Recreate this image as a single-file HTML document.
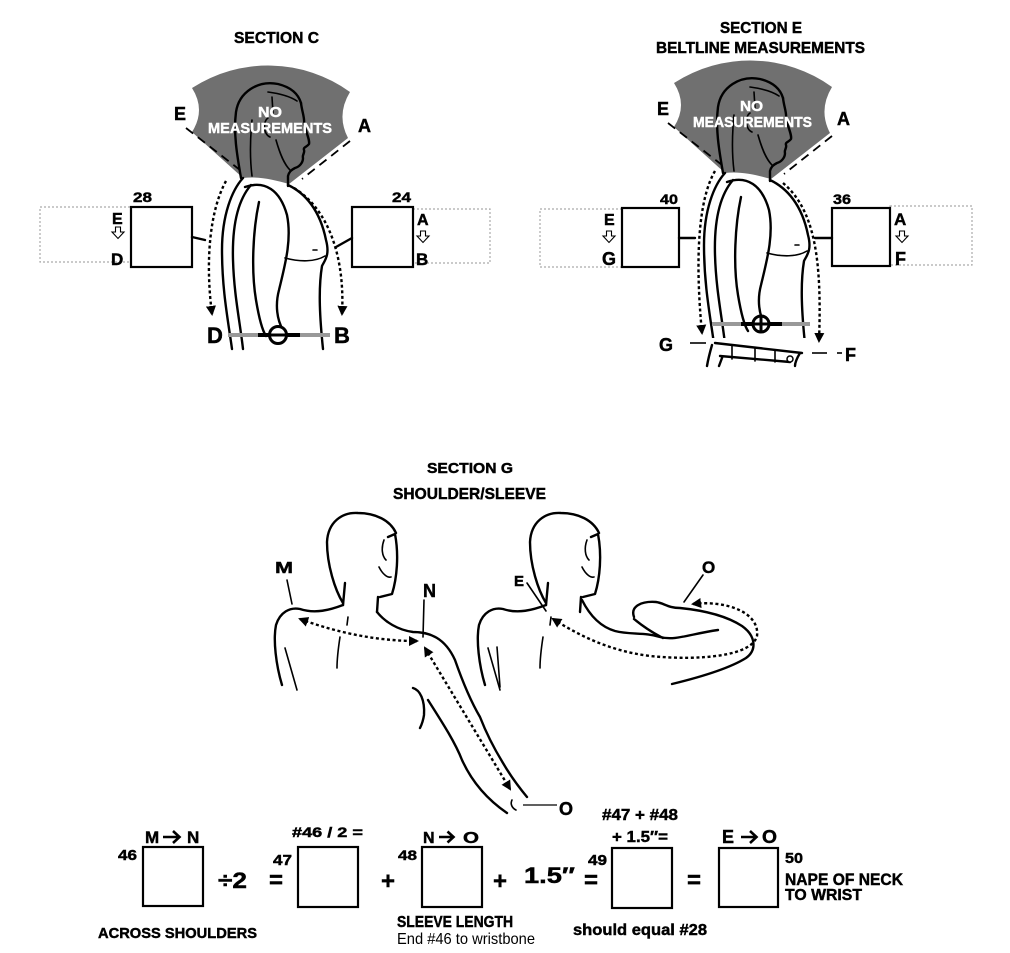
<!DOCTYPE html>
<html><head><meta charset="utf-8"><style>
html,body{margin:0;padding:0;background:#fff;}
svg{display:block;}
.t{font-family:"Liberation Sans",Arial,sans-serif;font-weight:bold;fill:#000;stroke:#000;stroke-width:0.45;}
.r{font-family:"Liberation Sans",Arial,sans-serif;font-weight:normal;fill:#000;}
.w{fill:#fff;stroke:#fff;}
.ln{fill:none;stroke:#000;stroke-width:2.4;stroke-linecap:round;stroke-linejoin:round;}
.th{fill:none;stroke:#000;stroke-width:1.6;stroke-linecap:round;}
.dot{fill:none;stroke:#000;stroke-width:2.4;stroke-dasharray:3 2.6;}
.dash{fill:none;stroke:#000;stroke-width:1.8;stroke-dasharray:9 6;}
.box{fill:#fff;stroke:#000;stroke-width:2.2;}
.gbox{fill:none;stroke:#aaa;stroke-width:1.2;stroke-dasharray:2 2;}
.ar{fill:#fff;stroke:#000;stroke-width:1.1;}
.arw{fill:none;stroke:#000;stroke-width:2.6;stroke-linecap:butt;stroke-linejoin:miter;}
</style></head><body>
<svg width="1010" height="953" viewBox="0 0 1010 953" xmlns="http://www.w3.org/2000/svg">
<defs>
<marker id="ah" viewBox="0 0 10 10" refX="8" refY="5" markerWidth="4.2" markerHeight="4.2" orient="auto-start-reverse"><path d="M0,0 L10,5 L0,10 z" fill="#000"/></marker>
<g id="fanfig">
  <path d="M192,88 A140,140 0 0 1 350,92 Q336,115 348,138 L289,184 C275,180 258,176 243,178 L192,132 Q206,110 192,88 Z" fill="#707070"/>
  <line x1="186" y1="128" x2="240" y2="170" class="dash"/>
  <line x1="350" y1="141" x2="302" y2="179" class="dash"/>
  <path class="ln" d="M241,178 C238,160 233,135 236,112 C239,92 258,80 278,84 C290,87 298,93 301,103"/>
  <path class="ln" d="M301,103 C302,112 305,118 304,124 C306,132 310,140 309,144 C307,147 303,147 304,150 C305,153 302,155 303,158 C303,163 299,167 295,168 C291,170 289,172 288,176 L288,186"/>
  <path class="th" d="M268,92 C283,94 291,97 297,101 M272,97 L273,113 M268,118 C263,121 263,134 270,137 M276,140 C280,154 284,164 290,170 M252,120 C250,140 250,160 252,176"/>
  <path class="ln" d="M243,178 C232,190 222,215 222,250 C222,290 228,320 232,349"/>
  <path class="ln" d="M251,185 C238,200 232,225 233,260 C234,295 240,322 243,349"/>
  <path class="ln" d="M245,187 C265,180 280,190 287,215 C292,240 285,265 279,290 C275,305 277,320 283,330"/>
  <path class="ln" d="M259,202 C253,230 251,270 256,300 C259,318 262,330 266,336"/>
  <path class="ln" d="M288,185 C305,193 320,210 326,240 C330,255 325,260 322,266 C318,290 320,320 323,349"/>
  <path class="th" d="M285,258 C300,262 315,262 325,256 M313,250 L317,250"/>
</g>
</defs>

<!-- SECTION C -->
<text class="t" x="234" y="43" font-size="16" textLength="85" lengthAdjust="spacingAndGlyphs">SECTION C</text>
<rect class="gbox" x="40" y="207" width="91" height="55"/>
<rect class="gbox" x="413" y="209" width="77" height="54"/>
<use href="#fanfig"/>
<text class="t w" x="258" y="117" font-size="15" textLength="24" lengthAdjust="spacingAndGlyphs">NO</text>
<text class="t w" x="208" y="133" font-size="15" textLength="124" lengthAdjust="spacingAndGlyphs">MEASUREMENTS</text>
<text class="t" x="174" y="120" font-size="18">E</text>
<text class="t" x="358" y="132" font-size="18">A</text>
<rect class="box" x="131" y="207" width="61" height="60"/>
<rect class="box" x="352" y="207" width="61" height="60"/>
<text class="t" x="133" y="202" font-size="14" textLength="19" lengthAdjust="spacingAndGlyphs">28</text>
<text class="t" x="392" y="202" font-size="14" textLength="19" lengthAdjust="spacingAndGlyphs">24</text>
<text class="t" x="112" y="224" font-size="16">E</text>
<path class="ar" d="M115.5,227 h5 v5 h3.5 l-6,6.5 l-6,-6.5 h3.5 z"/>
<text class="t" x="111" y="265" font-size="17">D</text>
<text class="t" x="417" y="225" font-size="16">A</text>
<path class="ar" d="M420.5,231 h5 v5 h3.5 l-6,6.5 l-6,-6.5 h3.5 z"/>
<text class="t" x="416" y="265" font-size="17">B</text>
<line x1="192" y1="237" x2="205" y2="240" class="ln"/>
<line x1="352" y1="238" x2="336" y2="247" class="ln"/>
<path class="dot" d="M226,181 C210,210 205,260 212,314" marker-end="url(#ah)"/>
<path class="dot" d="M294,188 C330,210 345,260 342,314" marker-end="url(#ah)"/>
<line x1="228" y1="335" x2="330" y2="335" stroke="#999" stroke-width="4"/>
<line x1="258" y1="335" x2="300" y2="335" stroke="#000" stroke-width="4"/>
<circle cx="278" cy="335" r="8.5" fill="#fff" stroke="#000" stroke-width="3"/>
<line x1="270" y1="335" x2="286" y2="335" stroke="#000" stroke-width="3"/>
<text class="t" x="207" y="343" font-size="22">D</text>
<text class="t" x="334" y="343" font-size="22">B</text>

<!-- SECTION E -->
<text class="t" x="720" y="33" font-size="16" textLength="82" lengthAdjust="spacingAndGlyphs">SECTION E</text>
<text class="t" x="656" y="53" font-size="16" textLength="209" lengthAdjust="spacingAndGlyphs">BELTLINE MEASUREMENTS</text>
<rect class="gbox" x="540" y="209" width="82" height="58"/>
<rect class="gbox" x="890" y="206" width="82" height="59"/>
<use href="#fanfig" transform="translate(482,-5)"/>
<rect x="700" y="338" width="130" height="30" fill="#fff"/>
<text class="t w" x="740" y="111" font-size="15" textLength="23" lengthAdjust="spacingAndGlyphs">NO</text>
<text class="t w" x="693" y="127" font-size="15" textLength="119" lengthAdjust="spacingAndGlyphs">MEASUREMENTS</text>
<text class="t" x="657" y="115" font-size="18">E</text>
<text class="t" x="837" y="125" font-size="18">A</text>
<rect class="box" x="622" y="208" width="57" height="59"/>
<rect class="box" x="832" y="208" width="58" height="58"/>
<text class="t" x="660" y="204" font-size="14" textLength="18" lengthAdjust="spacingAndGlyphs">40</text>
<text class="t" x="833" y="204" font-size="14" textLength="18" lengthAdjust="spacingAndGlyphs">36</text>
<text class="t" x="604" y="225" font-size="16">E</text>
<path class="ar" d="M606.5,231 h5 v5 h3.5 l-6,6.5 l-6,-6.5 h3.5 z"/>
<text class="t" x="602" y="265" font-size="18">G</text>
<text class="t" x="894" y="225" font-size="17">A</text>
<path class="ar" d="M899.5,231 h5 v5 h3.5 l-6,6.5 l-6,-6.5 h3.5 z"/>
<text class="t" x="895" y="265" font-size="18">F</text>
<line x1="679" y1="238" x2="695" y2="238" class="ln"/>
<line x1="832" y1="238" x2="815" y2="238" class="ln"/>
<path class="dot" d="M715,171 C698,200 695,260 702,333" marker-end="url(#ah)"/>
<path class="dot" d="M783,183 C815,210 822,260 819,341" marker-end="url(#ah)"/>
<path class="ln" d="M715,343 L802,353 M720,356 L790,362 M712,345 C710,352 708,360 707,366 M722,358 L719,366 M800,353 C797,358 795,362 795,366"/>
<path class="th" d="M732,346 L732,359 M755,348 L755,361 M775,350 L775,362"/>
<circle cx="790" cy="359" r="3" fill="#fff" stroke="#000" stroke-width="1.5"/>
<line x1="712" y1="324" x2="810" y2="324" stroke="#999" stroke-width="4"/>
<line x1="741" y1="324" x2="782" y2="324" stroke="#000" stroke-width="4"/>
<circle cx="761" cy="324" r="8" fill="#fff" stroke="#000" stroke-width="3"/>
<line x1="753" y1="324" x2="769" y2="324" stroke="#000" stroke-width="3"/>
<line x1="761" y1="316" x2="761" y2="332" stroke="#000" stroke-width="3"/>
<line x1="690" y1="343" x2="706" y2="343" stroke="#000" stroke-width="1.6"/>
<line x1="812" y1="353" x2="827" y2="353" stroke="#000" stroke-width="1.6"/>
<line x1="837" y1="353" x2="842" y2="353" stroke="#000" stroke-width="1.6"/>
<text class="t" x="659" y="351" font-size="18">G</text>
<text class="t" x="845" y="361" font-size="18">F</text>

<!-- SECTION G -->
<text class="t" x="427" y="473" font-size="15" textLength="86" lengthAdjust="spacingAndGlyphs">SECTION G</text>
<text class="t" x="393" y="499" font-size="16" textLength="153" lengthAdjust="spacingAndGlyphs">SHOULDER/SLEEVE</text>

<g id="gfig">
  <path class="ln" d="M343,603 C335,590 327,565 327,542 C328,522 342,512 358,513 C375,513 390,520 396,533"/>
  <path class="ln" d="M388,537 L395,534 C399,555 397,578 392,594 L380,597"/>
  <path class="th" d="M384,540 C381,548 382,556 386,560 M379,567 C383,575 388,578 391,577"/>
  <path class="ln" d="M345,583 L343,605 M378,597 L377,612"/>
  <path class="ln" d="M343,605 C330,610 315,614 300,609 C290,607 280,612 276,625 C273,640 276,665 282,685"/>
  <path class="th" d="M285,648 L297,690 M348,617 L347,625 M340,637 C338,650 337,660 337,668"/>
</g>
<path class="ln" d="M377,612 C385,622 398,630 413,632 C430,632 445,638 455,660 C462,680 470,700 480,717 C487,735 495,750 503,763 C510,775 517,785 527,797"/>
<path class="ln" d="M413,688 C420,690 425,700 424,715 C423,722 421,726 420,728"/>
<path class="ln" d="M428,700 C442,722 455,742 462,760 C472,782 488,800 507,813"/>
<path class="th" d="M512,800 C510,804 512,808 516,810"/>
<line x1="287" y1="580" x2="292" y2="604" class="th" stroke-width="1.2"/>
<line x1="424" y1="600" x2="423" y2="637" class="th" stroke-width="1.2"/>
<path class="dot" d="M300,619 Q360,641 417,641" marker-start="url(#ah)" marker-end="url(#ah)"/>
<path class="dot" d="M425,648 L510,789" marker-start="url(#ah)" marker-end="url(#ah)"/>
<line x1="523" y1="805" x2="557" y2="805" stroke="#000" stroke-width="1.3"/>
<text class="t" x="275" y="573" font-size="16" textLength="18" lengthAdjust="spacingAndGlyphs">M</text>
<text class="t" x="423" y="597" font-size="18">N</text>
<text class="t" x="559" y="815" font-size="18">O</text>

<use href="#gfig" transform="translate(203,0)"/>
<path class="ln" d="M582,600 C588,612 598,626 615,631 C630,635 645,632 660,637 C675,641 690,634 718,630"/>
<path class="ln" d="M634,617 C630,606 642,601 656,602 C664,603 668,608 680,608 C700,610 725,615 742,626 C756,636 757,650 746,658 C730,668 705,676 672,684"/>
<path class="ln" d="M634,619 C645,628 655,634 663,638"/>
<path class="th" d="M497,647 L500,687"/>
<path class="dot" d="M693,604 C725,600 760,612 757,636 C752,656 700,661 650,656 C610,651 580,636 553,619" marker-start="url(#ah)" marker-end="url(#ah)"/>
<line x1="527" y1="583" x2="546" y2="611" class="th" stroke-width="1.2"/>
<line x1="703" y1="575" x2="684" y2="602" class="th" stroke-width="1.2"/>
<text class="t" x="514" y="586" font-size="15">E</text>
<text class="t" x="702" y="573" font-size="17">O</text>

<!-- BOTTOM EQUATION -->
<text class="t" x="145" y="843" font-size="17">M</text>
<path class="arw" d="M163,837 H179 M173,831 L179.5,837 L173,843"/>
<text class="t" x="187" y="843" font-size="17">N</text>
<text class="t" x="118" y="860" font-size="15" textLength="19" lengthAdjust="spacingAndGlyphs">46</text>
<rect class="box" x="143" y="847" width="60" height="59"/>
<text class="t" x="218" y="888" font-size="22" textLength="29" lengthAdjust="spacingAndGlyphs">÷2</text>
<text class="t" x="269" y="888" font-size="24">=</text>
<text class="t" x="273" y="865" font-size="15" textLength="19" lengthAdjust="spacingAndGlyphs">47</text>
<text class="t" x="292" y="837" font-size="14" textLength="71" lengthAdjust="spacingAndGlyphs">#46 / 2 =</text>
<rect class="box" x="298" y="847" width="60" height="60"/>
<text class="t" x="381" y="889" font-size="24">+</text>
<text class="t" x="398" y="860" font-size="14" textLength="19" lengthAdjust="spacingAndGlyphs">48</text>
<text class="t" x="423" y="843" font-size="16">N</text>
<path class="arw" d="M439,837 H453 M447.5,831.5 L453.5,837 L447.5,842.5"/>
<text class="t" x="463" y="843" font-size="16" textLength="16" lengthAdjust="spacingAndGlyphs">O</text>
<rect class="box" x="422" y="847" width="60" height="60"/>
<text class="t" x="493" y="889" font-size="24">+</text>
<text class="t" x="524" y="883" font-size="22" textLength="51" lengthAdjust="spacingAndGlyphs">1.5″</text>
<text class="t" x="584" y="888" font-size="24">=</text>
<text class="t" x="588" y="865" font-size="15" textLength="19" lengthAdjust="spacingAndGlyphs">49</text>
<text class="t" x="602" y="820" font-size="16" textLength="76" lengthAdjust="spacingAndGlyphs">#47 + #48</text>
<text class="t" x="612" y="842" font-size="16" textLength="56" lengthAdjust="spacingAndGlyphs">+ 1.5″=</text>
<rect class="box" x="612" y="848" width="60" height="60"/>
<text class="t" x="687" y="888" font-size="24">=</text>
<text class="t" x="722" y="843" font-size="18">E</text>
<path class="arw" d="M741,837 H756 M750,831 L756.5,837 L750,843"/>
<text class="t" x="762" y="843" font-size="18" textLength="15" lengthAdjust="spacingAndGlyphs">O</text>
<rect class="box" x="719" y="848" width="59" height="59"/>
<text class="t" x="785" y="863" font-size="15" textLength="18" lengthAdjust="spacingAndGlyphs">50</text>
<text class="t" x="785" y="885" font-size="17" textLength="118" lengthAdjust="spacingAndGlyphs">NAPE OF NECK</text>
<text class="t" x="785" y="900" font-size="16" textLength="77" lengthAdjust="spacingAndGlyphs">TO WRIST</text>
<text class="t" x="98" y="938" font-size="15" textLength="159" lengthAdjust="spacingAndGlyphs">ACROSS SHOULDERS</text>
<text class="t" x="397" y="927" font-size="16" textLength="116" lengthAdjust="spacingAndGlyphs">SLEEVE LENGTH</text>
<text class="r" x="397" y="944" font-size="16" textLength="138" lengthAdjust="spacingAndGlyphs">End #46 to wristbone</text>
<text class="t" x="573" y="935" font-size="16" textLength="134" lengthAdjust="spacingAndGlyphs">should equal #28</text>
</svg>
</body></html>
